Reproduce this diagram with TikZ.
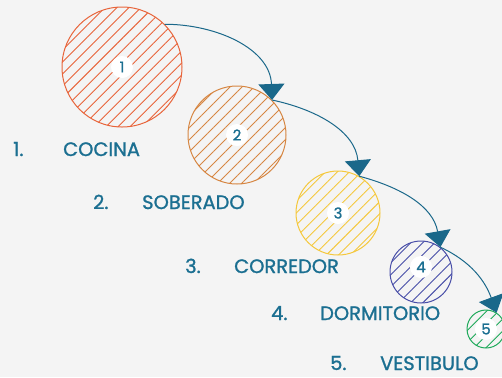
\documentclass[tikz,border=0pt]{standalone}
\usepackage{fontspec}
\setmainfont{Poppins}
\newfontfamily\lblfont{Poppins}[RawFeature={embolden=1.2}]
\usetikzlibrary{arrows.meta,patterns.meta}
\definecolor{tealtxt}{RGB}{27,111,145}
\definecolor{tealarr}{RGB}{26,104,138}
\definecolor{bgcol}{RGB}{244,244,244}
\definecolor{cocina}{RGB}{232,100,58}
\definecolor{soberado}{RGB}{214,134,66}
\definecolor{corredor}{RGB}{245,200,60}
\definecolor{dormitorio}{RGB}{72,78,168}
\definecolor{vestibulo}{RGB}{30,170,90}

\begin{document}
\begin{tikzpicture}[x=1bp,y=-1bp,
  room/.style={circle,draw=#1,line width=1bp,inner sep=0pt,
    pattern={Lines[angle=45,distance=8.5bp,line width=0.9bp]},pattern color=#1},
  num/.style={circle,fill=white,inner sep=1bp,minimum size=22bp,text=tealtxt,
    font=\lblfont\fontsize{15}{17}\selectfont},
  lbl/.style={anchor=base west,inner sep=0pt,text=tealtxt,
    font=\lblfont\fontsize{19.5}{22}\selectfont},
  arr/.style={-{Triangle[length=16bp,width=26bp]},draw=tealarr,line width=1bp}]
  \fill[bgcol] (0,0) rectangle (502,377);
  \useasboundingbox (0,0) rectangle (502,377);
  % rooms
  \node[room=cocina,minimum size=120bp] (c1) at (122,67) {};
  \node[room=soberado,minimum size=98bp] (c2) at (237,135) {};
  \node[room=corredor,minimum size=84bp] (c3) at (338,213) {};
  \node[room=dormitorio,minimum size=62bp] (c4) at (421,272) {};
  \node[room=vestibulo,minimum size=38bp] (c5) at (486,329) {};
  \node[num] (n1) at (c1) {1};
  \node[num] (n2) at (c2) {2};
  \node[num] (n3) at (c3) {3};
  \node[num] (n4) at ([yshift=5bp]c4) {4};
  \node[num] (n5) at (c5) {5};
  % arrows
  \draw[arr] (c1.45) to[out=0,in=92] (c2.45);
  \draw[arr] (c2.45) to[out=-12,in=95] (c3.60);
  \draw[arr] (c3.60) to[out=-15,in=100] (c4.52);
  \draw[arr] (c4.52) to[out=-25,in=110] (c5.57);
  % legend
  \node[lbl] (k1) at (13,156) {1.};
  \node[lbl] (t1) at (63,156) {COCINA};
  \node[lbl] (k2) at (93,209) {2.};
  \node[lbl] (t2) at (142,209) {SOBERADO};
  \node[lbl] (k3) at (185,273) {3.};
  \node[lbl] (t3) at (234,273) {CORREDOR};
  \node[lbl] (k4) at (271,320) {4.};
  \node[lbl] (t4) at (320,320) {DORMITORIO};
  \node[lbl] (k5) at (330,370) {5.};
  \node[lbl] (t5) at (380,370) {VESTIBULO};
\end{tikzpicture}
\end{document}
